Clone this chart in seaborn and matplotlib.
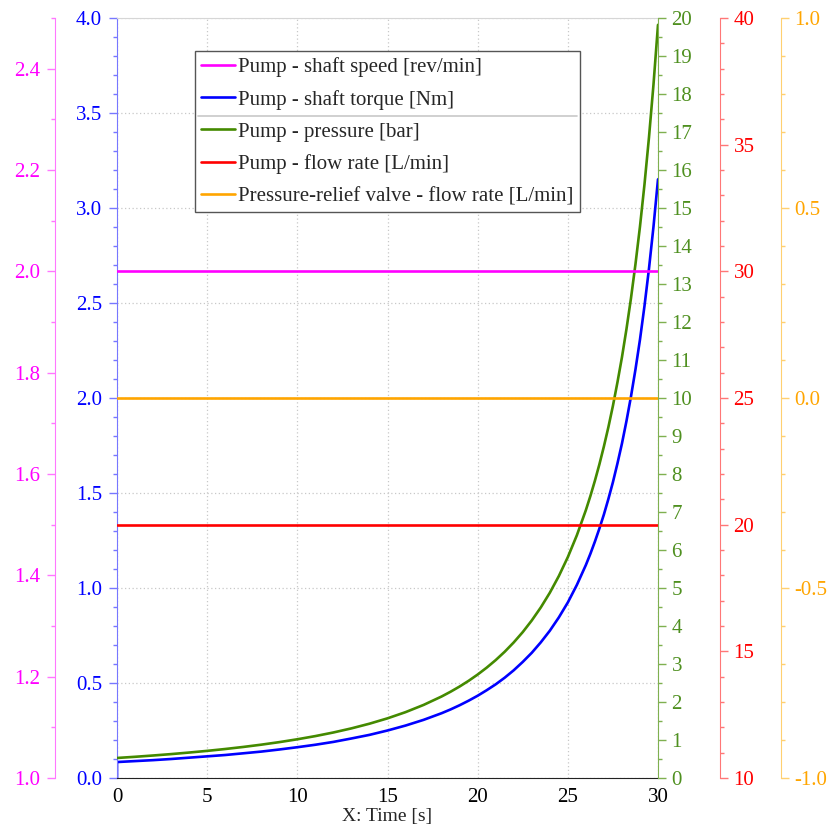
import matplotlib
matplotlib.use("Agg")
import matplotlib.pyplot as plt
import seaborn as sns
import numpy as np
import pandas as pd
from matplotlib.ticker import MultipleLocator, FormatStrFormatter
from matplotlib.lines import Line2D

# ---------------- data ----------------
const_time = [0, 30]
shaft_speed = [2.0, 2.0]          # magenta axis
pump_flow = [20.0, 20.0]          # red axis
relief_flow = [0.0, 0.0]          # orange axis

time_s = [0, 1, 2, 3, 4, 5, 6, 7, 8, 9, 10, 11, 12, 13, 14, 15, 16, 17, 18,
          18.5, 19, 19.5, 20, 20.5, 21, 21.5, 22, 22.5, 23, 23.5, 24, 24.5, 25, 25.5, 26,
          26.25, 26.5, 26.75, 27, 27.25, 27.5, 27.75, 28, 28.25, 28.5, 28.75, 29, 29.25,
          29.5, 29.75, 30]
pressure = [0.527, 0.558, 0.592, 0.629, 0.670, 0.714, 0.763, 0.817, 0.877, 0.944, 1.019,
            1.103, 1.198, 1.306, 1.429, 1.570, 1.733, 1.923, 2.145,
            2.271, 2.408, 2.558, 2.723, 2.904, 3.103, 3.323, 3.568, 3.840, 4.146, 4.488,
            4.874, 5.313, 5.813, 6.387, 7.049,
            7.420, 7.821, 8.255, 8.726, 9.236, 9.794, 10.41, 11.07, 11.81, 12.62, 13.52,
            14.51, 15.62, 16.86, 18.25, 19.82]
torque_time = [0] + time_s
torque = [0.0, 0.084, 0.089, 0.094, 0.100, 0.107, 0.114, 0.121, 0.130, 0.139, 0.150, 0.162,
          0.175, 0.190, 0.208, 0.227, 0.250, 0.276, 0.306, 0.341,
          0.361, 0.383, 0.407, 0.433, 0.462, 0.493, 0.528, 0.567, 0.611, 0.659, 0.714,
          0.775, 0.845, 0.924, 1.016, 1.121,
          1.180, 1.244, 1.313, 1.387, 1.469, 1.557, 1.655, 1.760, 1.878, 2.007, 2.150,
          2.307, 2.484, 2.681, 2.902, 3.151]

labels = ["Pump - shaft speed [rev/min]", "Pump - shaft torque [Nm]", "Pump - pressure [bar]",
          "Pump - flow rate [L/min]", "Pressure-relief valve - flow rate [L/min]"]

# ---------------- style ----------------
sns.set_style("white")
plt.rcParams["font.family"] = ["Liberation Serif", "DejaVu Serif"]
plt.rcParams["axes.unicode_minus"] = False
FS = 15

C_MAG, C_BLUE, C_GREEN, C_RED, C_ORANGE = "#ff00ff", "#0000ff", "#448a00", "#ff0000", "#ffa500"
S_MAG, S_BLUE, S_GREEN, S_RED, S_ORANGE = "#ff77ff", "#7777ff", "#7fb050", "#ff7777", "#ffd070"
L_GREEN = "#4f9020"
LW = 1.9
PX = 72 / 100  # points per pixel

fig = plt.figure(figsize=(8.32, 8.25), dpi=100)
ax = fig.add_axes([117 / 832, 1 - 778 / 825, 541 / 832, 760 / 825])
ax_g = ax.twinx()
ax_r = ax.twinx()
ax_o = ax.twinx()
ax_m = ax.twinx()

# ---------------- lines ----------------
sns.lineplot(x=torque_time, y=torque, ax=ax, color=C_BLUE, lw=LW, estimator=None, sort=False, legend=False)
sns.lineplot(x=time_s, y=pressure, ax=ax_g, color=C_GREEN, lw=LW, estimator=None, sort=False, legend=False)
sns.lineplot(x=const_time, y=pump_flow, ax=ax_r, color=C_RED, lw=LW, estimator=None, sort=False, legend=False)
sns.lineplot(x=const_time, y=relief_flow, ax=ax_o, color=C_ORANGE, lw=LW, estimator=None, sort=False, legend=False)
sns.lineplot(x=const_time, y=shaft_speed, ax=ax_m, color=C_MAG, lw=LW, estimator=None, sort=False, legend=False)

# ---------------- axes ----------------
ax.set_xlim(0, 30)
ax.set_ylim(0, 4.0)
ax_g.set_ylim(0, 20)
ax_r.set_ylim(10, 40)
ax_o.set_ylim(-1.0, 1.0)
ax_m.set_ylim(1.0, 2.5)

ax.xaxis.set_major_locator(MultipleLocator(5))
ax.xaxis.set_minor_locator(MultipleLocator(1))
ax.yaxis.set_major_locator(MultipleLocator(0.5))
ax.yaxis.set_minor_locator(MultipleLocator(0.1))
ax.yaxis.set_major_formatter(FormatStrFormatter("%.1f"))
ax_g.yaxis.set_major_locator(MultipleLocator(1))
ax_g.yaxis.set_minor_locator(MultipleLocator(0.5))
ax_r.yaxis.set_major_locator(MultipleLocator(5))
ax_r.yaxis.set_minor_locator(MultipleLocator(1))
ax_o.yaxis.set_major_locator(MultipleLocator(0.5))
ax_o.yaxis.set_minor_locator(MultipleLocator(0.1))
ax_o.yaxis.set_major_formatter(FormatStrFormatter("%.1f"))
ax_m.yaxis.set_major_locator(MultipleLocator(0.2))
ax_m.yaxis.set_minor_locator(MultipleLocator(0.1))
ax_m.yaxis.set_major_formatter(FormatStrFormatter("%.1f"))

ax.grid(True, which="major", linestyle=(0, (1, 2)), color="#c8c8c8", linewidth=0.9)

for a in (ax_g, ax_r, ax_o, ax_m):
    for s in a.spines.values():
        s.set_visible(False)
    a.patch.set_visible(False)

ax.spines["right"].set_visible(False)
ax.spines["left"].set_color(S_BLUE)
ax.spines["bottom"].set_color("#222222")
ax.spines["top"].set_color("#d6d6d6")

ax_g.spines["right"].set_visible(True)
ax_g.spines["right"].set_color(S_GREEN)
ax_r.spines["right"].set_visible(True)
ax_r.spines["right"].set_position(("outward", 62 * PX))
ax_r.spines["right"].set_color(S_RED)
ax_o.spines["right"].set_visible(True)
ax_o.spines["right"].set_position(("outward", 123 * PX))
ax_o.spines["right"].set_color(S_ORANGE)
ax_m.yaxis.tick_left()
ax_m.yaxis.set_label_position("left")
ax_m.spines["left"].set_visible(True)
ax_m.spines["left"].set_position(("outward", 62 * PX))
ax_m.spines["left"].set_color(S_MAG)

def style(a, axis, tick_c, lab_c, pad):
    a.tick_params(axis=axis, which="major", direction="out", length=8 * PX, width=1,
                  color=tick_c, labelcolor=lab_c, labelsize=FS, pad=pad)
    a.tick_params(axis=axis, which="minor", direction="out", length=4 * PX, width=1, color=tick_c)

style(ax, "x", "#222222", "black", 1.5)
style(ax, "y", S_BLUE, C_BLUE, 5)
style(ax_g, "y", S_GREEN, L_GREEN, 4)
style(ax_r, "y", S_RED, C_RED, 4)
style(ax_o, "y", S_ORANGE, C_ORANGE, 4)
style(ax_m, "y", S_MAG, C_MAG, 5)

ax.set_xlabel("X: Time [s]", fontsize=14, labelpad=0.5)
ax.set_ylabel("")
for a in (ax_g, ax_r, ax_o, ax_m):
    a.set_ylabel("")

# ---------------- legend ----------------
handles = [ax_m.lines[0], ax.lines[0], ax_g.lines[0], ax_r.lines[0], ax_o.lines[0]]
leg = ax_m.legend(handles, labels, loc="upper left", bbox_to_anchor=(0.144, 0.9566),
                  borderaxespad=0, frameon=True, fancybox=False, framealpha=1,
                  edgecolor="#555555", fontsize=FS, handlelength=1.63, handletextpad=0.15,
                  borderpad=0.3, labelspacing=0.6)
leg.get_frame().set_linewidth(1.0)
leg.set_zorder(20)

fig.canvas.draw()
t2 = leg.get_texts()[1].get_window_extent()
t3 = leg.get_texts()[2].get_window_extent()
fr = leg.get_frame().get_window_extent()
ysep = (t2.y0 + t3.y1) / 2
inv = fig.transFigure.inverted()
(x0, y0) = inv.transform((fr.x0 + 3, ysep))
(x1, _) = inv.transform((fr.x1 - 3, ysep))
fig.add_artist(Line2D([x0, x1], [y0, y0], transform=fig.transFigure, color="#c8c8c8", lw=1.2, zorder=30))

fig.savefig("out.png", dpi=100)
